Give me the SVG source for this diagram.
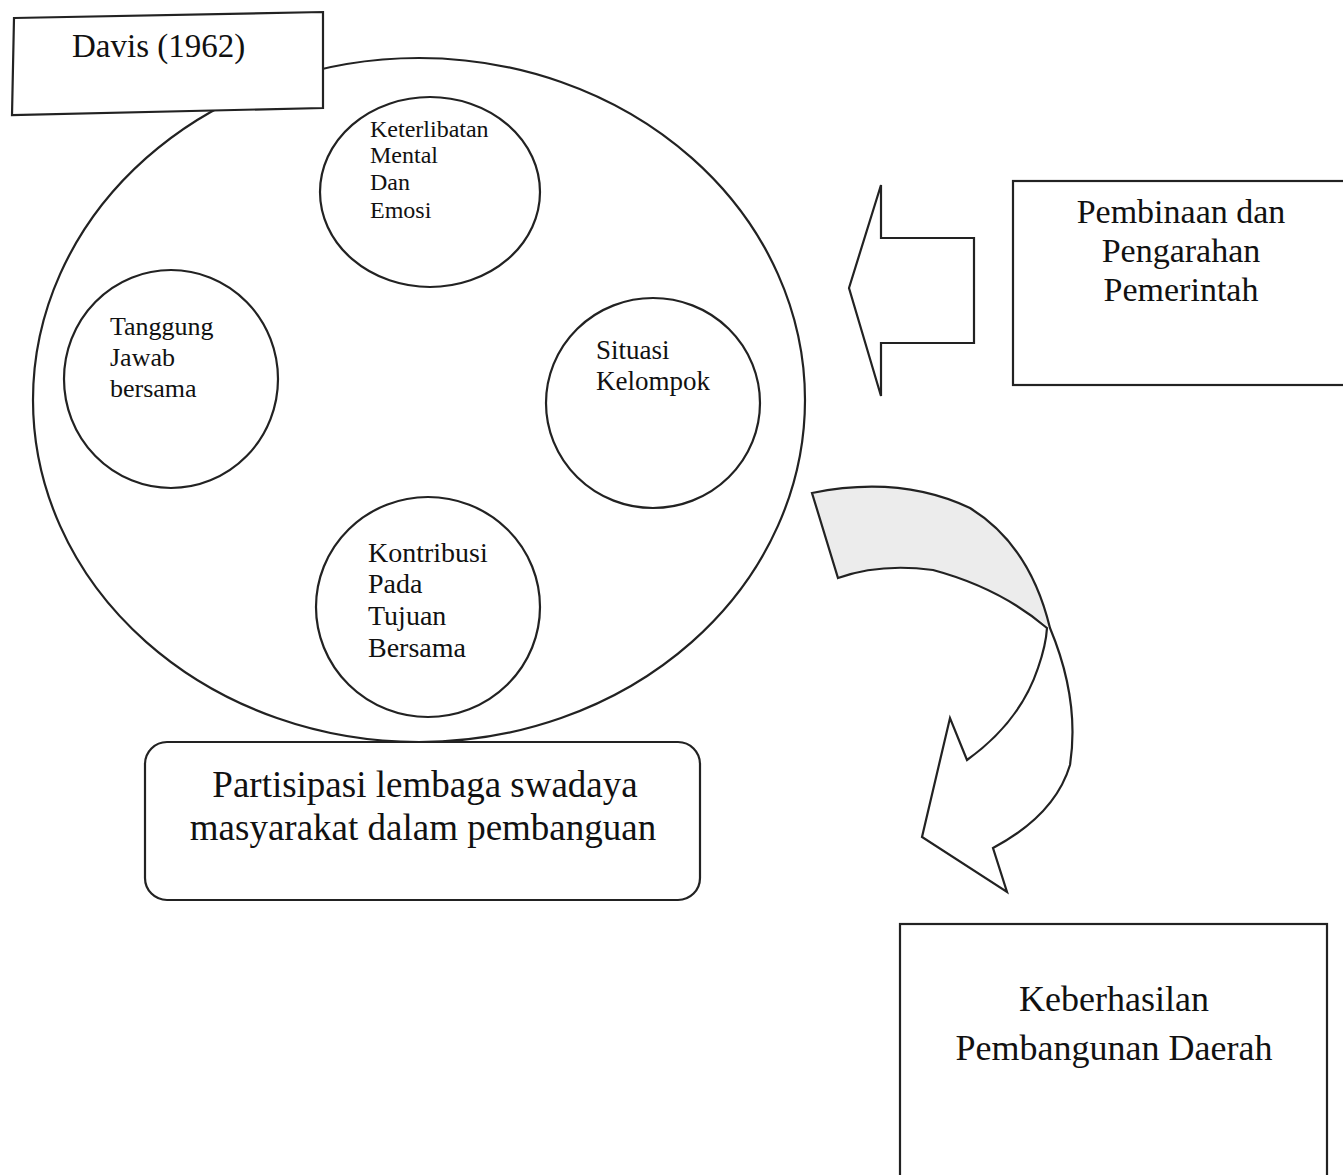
<svg xmlns="http://www.w3.org/2000/svg" width="1343" height="1175" viewBox="0 0 1343 1175">
<style>
.ln{fill:#fff;stroke:#222;stroke-width:2.2}
.t{font-family:"Liberation Serif","Times New Roman",serif;fill:#111}
.c{text-anchor:middle}
</style>
<rect width="1343" height="1175" fill="#fff"/>
<g id="outer-ellipse">
<ellipse class="ln" cx="419" cy="400" rx="386" ry="342"/>
</g>
<g id="davis">
<polygon class="ln" points="14,18 323,12 323,108 12,115"/>
<text class="t" x="72" y="57" font-size="33">Davis (1962)</text>
</g>
<g id="keterlibatan">
<ellipse class="ln" cx="430" cy="192" rx="110" ry="95"/>
<text class="t" font-size="24"><tspan x="370" y="137">Keterlibatan</tspan><tspan x="370" y="163">Mental</tspan><tspan x="370" y="190">Dan</tspan><tspan x="370" y="218">Emosi</tspan></text>
</g>
<g id="tanggung">
<ellipse class="ln" cx="171" cy="379" rx="107" ry="109"/>
<text class="t" font-size="26"><tspan x="110" y="335">Tanggung</tspan><tspan x="110" y="366">Jawab</tspan><tspan x="110" y="397">bersama</tspan></text>
</g>
<g id="situasi">
<ellipse class="ln" cx="653" cy="403" rx="107" ry="105"/>
<text class="t" font-size="27"><tspan x="596" y="359">Situasi</tspan><tspan x="596" y="390">Kelompok</tspan></text>
</g>
<g id="kontribusi">
<ellipse class="ln" cx="428" cy="607" rx="112" ry="110"/>
<text class="t" font-size="28"><tspan x="368" y="562">Kontribusi</tspan><tspan x="368" y="593">Pada</tspan><tspan x="368" y="625">Tujuan</tspan><tspan x="368" y="657">Bersama</tspan></text>
</g>
<g id="partisipasi">
<rect class="ln" x="145" y="742" width="555" height="158" rx="22"/>
<text class="t c" font-size="37"><tspan x="425" y="797">Partisipasi lembaga swadaya</tspan><tspan x="423" y="840">masyarakat dalam pembanguan</tspan></text>
</g>
<g id="pembinaan">
<rect class="ln" x="1013" y="181" width="345" height="204"/>
<text class="t c" font-size="34"><tspan x="1181" y="223">Pembinaan dan</tspan><tspan x="1181" y="262">Pengarahan</tspan><tspan x="1181" y="301">Pemerintah</tspan></text>
</g>
<g id="keberhasilan">
<rect class="ln" x="900" y="924" width="427" height="270"/>
<text class="t c" font-size="36"><tspan x="1114" y="1011">Keberhasilan</tspan><tspan x="1114" y="1060">Pembangunan Daerah</tspan></text>
</g>
<g id="connectors">
<polygon class="ln" points="849,288 881,185 881,238 974,238 974,343 881,343 881,396"/>
<path d="M812,493 Q900,475 970,508 Q1030,545 1050,628 Q1000,588 933,570 Q880,563 838,578 Z" fill="#ececec" stroke="none"/>
<path d="M812,493 Q900,475 970,508 Q1030,545 1050,628 Q1080,700 1070,765 Q1055,815 993,848 L1007,892 L922,837 L950,718 L967,760 Q1020,722 1038,668 Q1046,645 1047,628 Q1000,588 933,570 Q880,563 838,578 Z" fill="none" stroke="#222" stroke-width="2.2" stroke-linejoin="miter"/>
</g>
</svg>
